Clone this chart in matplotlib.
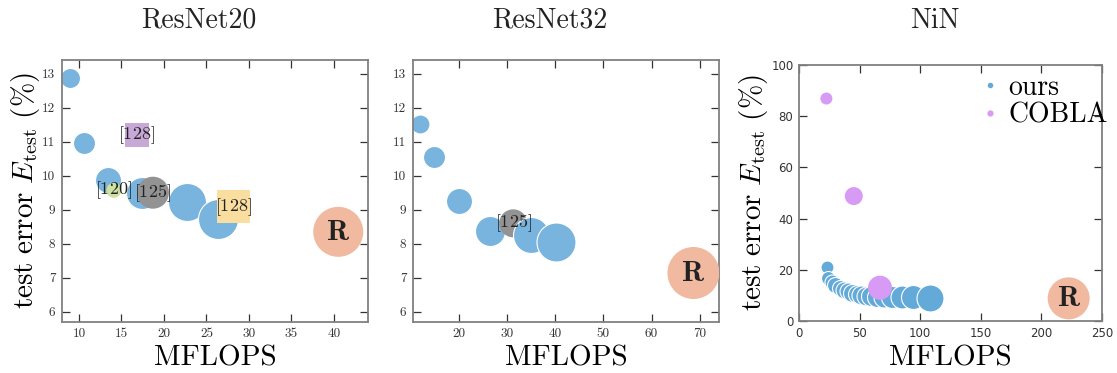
import matplotlib
matplotlib.use("Agg")
import matplotlib.pyplot as plt
from matplotlib.lines import Line2D
from matplotlib.ticker import FixedLocator, FuncFormatter

plt.rcParams['mathtext.fontset'] = 'cm'
plt.rcParams['axes.unicode_minus'] = False

# ---------------- data ----------------
titles = ['ResNet20', 'ResNet32', 'NiN']

# ResNet20 - ours
r20_flops = [8.9, 10.6, 13.4, 17.4, 22.7, 26.4]
r20_err = [12.88, 10.97, 9.88, 9.48, 9.22, 8.72]
r20_rad = [10, 11, 13, 16, 19, 20]
# ResNet20 - other methods (circles)
r20_oc_flops = [14.1, 18.7]
r20_oc_err = [9.57, 9.50]
r20_oc_rad = [7.5, 16]
r20_oc_lab = ['[120]', '[125]']
# ResNet20 - other methods (squares)
r20_os_flops = [16.8, 28.2]
r20_os_err = [11.2, 9.08]
r20_os_side = [24, 33]
r20_os_lab = ['[128]', '[128]']
r20_ref = (40.5, 8.35)

# ResNet32
r32_flops = [11.9, 14.8, 20.1, 26.4, 34.9, 40.1]
r32_err = [11.53, 10.56, 9.25, 8.36, 8.27, 8.04]
r32_rad = [9.5, 11, 13, 15, 18, 19.5]
r32_oc_flops = [31.3]
r32_oc_err = [8.6]
r32_oc_rad = [14]
r32_oc_lab = ['[125]']
r32_ref = (68.7, 7.14)

# NiN
nin_flops = [23.2, 24.0, 27, 30, 33.5, 37, 40.5, 44, 47.5, 51, 55, 59, 64, 70, 77, 85, 94, 108]
nin_err = [21.2, 16.9, 15.2, 14.0, 13.0, 12.2, 11.6, 11.1, 10.6, 10.2, 9.9, 9.6, 9.4, 9.3, 9.4, 9.5, 9.4, 8.9]
nin_rad = [6.5, 7, 7.5, 8, 8, 8.5, 8.5, 9, 9, 9.5, 9.5, 10, 10, 10.5, 11, 11.5, 12, 13.5]
cobla_flops = [22.6, 45.2, 66.8]
cobla_err = [86.9, 48.8, 13.0]
cobla_rad = [6, 9, 12]
nin_ref = (222.5, 8.85)

# ---------------- style ----------------
DPI = 100
BLUE = '#78b4de'
BLUE_NIN = '#64aad8'
SALMON = '#f0b9a0'
GRAY = '#939393'
GREEN = '#cde1a0'
PURPLE_SQ = '#c8a8d6'
YELLOW_SQ = '#fadea0'
COBLA = '#d79bf5'
SPINE = '#808080'
TICK = '#333333'


def s_circle(r_px):
    return (2 * r_px * 72.0 / DPI) ** 2


def s_square(side_px):
    return (side_px * 72.0 / DPI) ** 2


fig = plt.figure(figsize=(11.17, 3.73), dpi=DPI)
W, H = 1117.0, 373.0


def make_ax(l, r, t, b):
    return fig.add_axes([l / W, 1 - b / H, (r - l) / W, (b - t) / H])


ax1 = make_ax(62, 368, 60, 322)
ax2 = make_ax(413, 719, 60, 322)
ax3 = make_ax(799, 1102, 65, 321)

cm_fmt = FuncFormatter(lambda v, p: '%d' % round(v))

for ax in (ax1, ax2, ax3):
    for sp in ax.spines.values():
        sp.set_color(SPINE)
        sp.set_linewidth(1.3)
    ax.tick_params(direction='in', top=True, right=True, length=6, width=0.9,
                   color=TICK, labelcolor='#333333')

for ax in (ax1, ax2):
    ax.set_ylim(5.7, 13.4)
    ax.yaxis.set_major_locator(FixedLocator(range(6, 14)))
    ax.xaxis.set_major_formatter(cm_fmt)
    ax.yaxis.set_major_formatter(cm_fmt)
    for lab in ax.get_xticklabels() + ax.get_yticklabels():
        lab.set_fontfamily('cmr10')
    ax.tick_params(labelsize=9.5)
    ax.tick_params(axis='x', pad=4.5)
    ax.tick_params(axis='y', pad=4.8)

ax1.set_xlim(8, 44)
ax1.xaxis.set_major_locator(FixedLocator(range(10, 45, 5)))
ax2.set_xlim(10.5, 74)
ax2.xaxis.set_major_locator(FixedLocator(range(20, 75, 10)))

ax3.set_xlim(0, 250)
ax3.set_ylim(0, 100)
ax3.xaxis.set_major_locator(FixedLocator(range(0, 251, 50)))
ax3.yaxis.set_major_locator(FixedLocator(range(0, 101, 20)))
ax3.xaxis.set_major_formatter(cm_fmt)
ax3.yaxis.set_major_formatter(cm_fmt)
ax3.tick_params(labelsize=8.5, pad=4)
for lab in ax3.get_xticklabels() + ax3.get_yticklabels():
    lab.set_fontfamily('DejaVu Sans')

ann_kw = dict(ha='center', va='center', fontsize=13, color='#222222', zorder=50)


def circles(ax, xs, ys, rads, color, edge='white'):
    for x, y, r in zip(xs, ys, rads):
        ax.scatter([x], [y], s=s_circle(r), color=color, edgecolors=edge,
                   linewidths=0.8, zorder=2 + x / 100.0)


def ref(ax, pt, r):
    ax.scatter([pt[0]], [pt[1]], s=s_circle(r), color=SALMON, edgecolors='none', zorder=3)
    ax.text(pt[0], pt[1], r'$\mathbf{R}$', ha='center', va='center', fontsize=21,
            color='#222222', zorder=51)


# ResNet20
circles(ax1, r20_flops, r20_err, r20_rad, BLUE)
oc_colors = [GREEN, GRAY]
for x, y, r, lab, c in zip(r20_oc_flops, r20_oc_err, r20_oc_rad, r20_oc_lab, oc_colors):
    ax1.scatter([x], [y], s=s_circle(r), color=c, edgecolors='none', zorder=2 + x / 100.0)
    ax1.text(x, y, r'$\mathrm{%s}$' % lab, **ann_kw)
sq_colors = [PURPLE_SQ, YELLOW_SQ]
for x, y, sd, lab, c in zip(r20_os_flops, r20_os_err, r20_os_side, r20_os_lab, sq_colors):
    ax1.scatter([x], [y], s=s_square(sd), marker='s', color=c, edgecolors='none',
                zorder=2 + x / 100.0)
    ax1.text(x, y, r'$\mathrm{%s}$' % lab, **ann_kw)
ref(ax1, r20_ref, 25)

# ResNet32
circles(ax2, r32_flops, r32_err, r32_rad, BLUE)
for x, y, r, lab in zip(r32_oc_flops, r32_oc_err, r32_oc_rad, r32_oc_lab):
    ax2.scatter([x], [y], s=s_circle(r), color=GRAY, edgecolors='none', zorder=2 + x / 100.0)
    ax2.text(x, y, r'$\mathrm{%s}$' % lab, **ann_kw)
ref(ax2, r32_ref, 26)

# NiN
circles(ax3, nin_flops, nin_err, nin_rad, BLUE_NIN)
for x, y, r in zip(cobla_flops, cobla_err, cobla_rad):
    ax3.scatter([x], [y], s=s_circle(r), color=COBLA, edgecolors='none', zorder=10)
ref(ax3, nin_ref, 21)

handles = [Line2D([], [], ls='none', marker='o', markersize=4.5, color=BLUE_NIN,
                  markeredgecolor='white', markeredgewidth=0.5),
           Line2D([], [], ls='none', marker='o', markersize=4.5, color=COBLA,
                  markeredgecolor='none')]
ax3.legend(handles, ['ours', 'COBLA'], loc='upper left', bbox_to_anchor=(0.603, 0.9625),
           frameon=False, borderpad=0, borderaxespad=0, handlelength=0.6,
           handletextpad=0.35, labelspacing=0.05,
           prop={'family': 'cmr10', 'size': 20})

# labels
ylab = r'$\mathrm{test\ error}\ E_{\mathrm{test}}\ (\%)$'
ax1.set_ylabel(ylab, fontsize=21, va='baseline')
ax1.yaxis.set_label_coords(-0.095, 0.5)
ax3.set_ylabel(ylab, fontsize=21, va='baseline')
ax3.yaxis.set_label_coords(-0.125, 0.5)

for ax, hgt, gap in ((ax1, 262, 43), (ax2, 262, 43), (ax3, 256, 44)):
    ax.set_xlabel('MFLOPS', fontsize=21, family='cmr10', va='baseline')
    ax.xaxis.set_label_coords(0.5, -gap / hgt)

title_x = [198.5, 550, 934.5]
for t, x in zip(titles, title_x):
    fig.text(x / W, 1 - 28 / H, t, ha='center', va='baseline', fontsize=20,
             family='cmr10', color='#222222')

fig.savefig('out.png', dpi=DPI)
